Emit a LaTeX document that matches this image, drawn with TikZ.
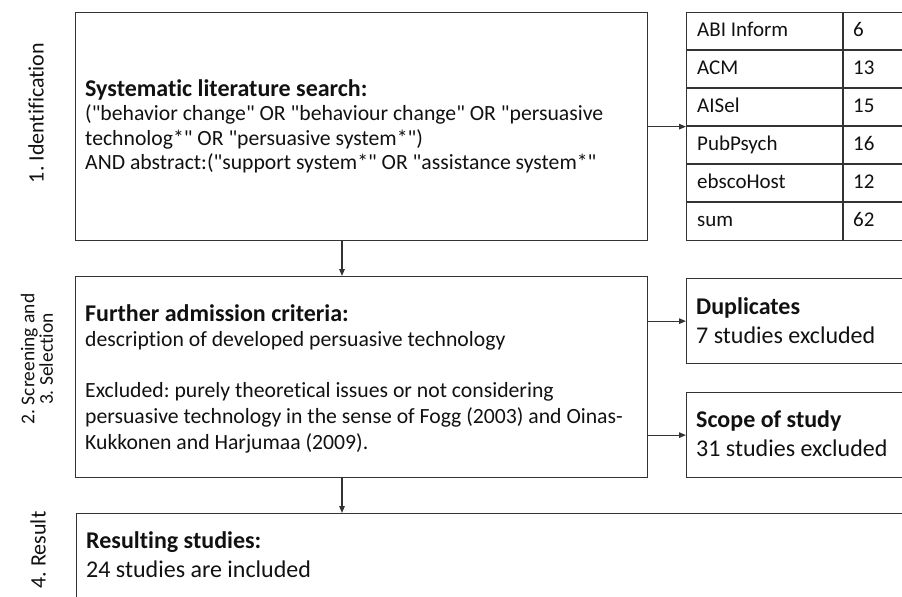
\documentclass[tikz,border=0pt]{standalone}
\usepackage{fontspec}
\setmainfont{Carlito}[Ligatures={TeXOff,CommonOff}]
\usetikzlibrary{arrows.meta,calc}
\frenchspacing
\definecolor{ln}{HTML}{333333}
\definecolor{tx}{HTML}{111111}
\newcommand{\hd}[1]{{\fontsize{24bp}{24.5bp}\selectfont\bfseries #1}}
\tikzset{
  frame/.style={draw=ln, line width=1.3bp, rectangle, anchor=north west, inner sep=0pt},
  mtext/.style={anchor=base west, inner sep=0pt, align=left, text=tx, font=\fontsize{21.7bp}{#1}\selectfont},
  btext/.style={anchor=base west, inner sep=0pt, align=left, text=tx, font=\fontsize{24bp}{28.5bp}\selectfont},
  conn/.style={draw=ln, line width=1.3bp, -{Triangle[length=7bp,width=5.5bp]}},
  phase/.style={rotate=90, text=tx, align=center, inner sep=0pt, font=\fontsize{#1}{18.5bp}\selectfont},
  cell/.style={anchor=base west, text=tx, inner sep=0pt, font=\fontsize{21bp}{25bp}\selectfont},
  grid/.style={draw=ln, line width=1.3bp},
}
\begin{document}
\begin{tikzpicture}[x=1bp,y=-1bp]
\useasboundingbox (0,0) rectangle (902,597);
\clip (0,0) rectangle (902,597);
% phase labels
\node[phase=22bp] (p1) at (36,113) {1. Identification};
\node[phase=19.5bp] (p2) at (37,359) {2. Screening and\\3. Selection};
\node[phase=22bp] (p4) at (38,550) {4. Result};
% main boxes
\node[frame, minimum width=572bp, minimum height=228bp] (b1) at (75,12) {};
\node[mtext=24.5bp] (b1t) at (85,170) {\hd{Systematic literature search:}\\("behavior change" OR "behaviour change" OR "persuasive\\technolog*" OR "persuasive system*")\\AND abstract:("support system*" OR "assistance system*"};
\node[frame, minimum width=572bp, minimum height=201bp] (b2) at (75,276) {};
\node[mtext=25.6bp] (b2t) at (85,449) {\hd{Further admission criteria:}\\description of developed persuasive technology\\[25.6bp]Excluded: purely theoretical issues or not considering\\persuasive technology in the sense of Fogg (2003) and Oinas-\\Kukkonen and Harjumaa (2009).};
\node[frame, minimum width=840bp, minimum height=120bp] (b3) at (76,513) {};
\node[btext] (b3t) at (86,577) {\textbf{Resulting studies:}\\24 studies are included};
% side boxes
\node[frame, minimum width=230bp, minimum height=85bp] (dup) at (686,278) {};
\node[btext] (dupt) at (696,343) {\textbf{Duplicates}\\7 studies excluded};
\node[frame, minimum width=230bp, minimum height=85bp] (scope) at (686,392) {};
\node[btext] (scopet) at (696,456) {\textbf{Scope of study}\\31 studies excluded};
% table
\node[frame, minimum width=230bp, minimum height=228bp] (tab) at (686,12) {};
\draw[grid] (843,12) -- (843,240);
\foreach \yy in {50,88,126,164} \draw[grid] (686,\yy) -- (910,\yy);
\draw[ln, line width=2.8bp] (686,202) -- (910,202);
\foreach \nm/\val [count=\i from 0] in {ABI Inform/6,ACM/13,AISel/15,PubPsych/16,ebscoHost/12,sum/62}{
  \node[cell] (c\i a) at (697,{37+38*\i}) {\nm};
  \node[cell] (c\i b) at (853,{37+38*\i}) {\val};
}
% connectors
\coordinate (ax) at (342,0);
\draw[conn] (b1.east) -- (tab.west);
\draw[conn] (b1.south -| ax) -- (b2.north -| ax);
\draw[conn] (b2.south -| ax) -- (b3.north -| ax);
\draw[conn] (dup.west -| b2.east) -- (dup.west);
\draw[conn] (scope.west -| b2.east) -- (scope.west);
\end{tikzpicture}
\end{document}
